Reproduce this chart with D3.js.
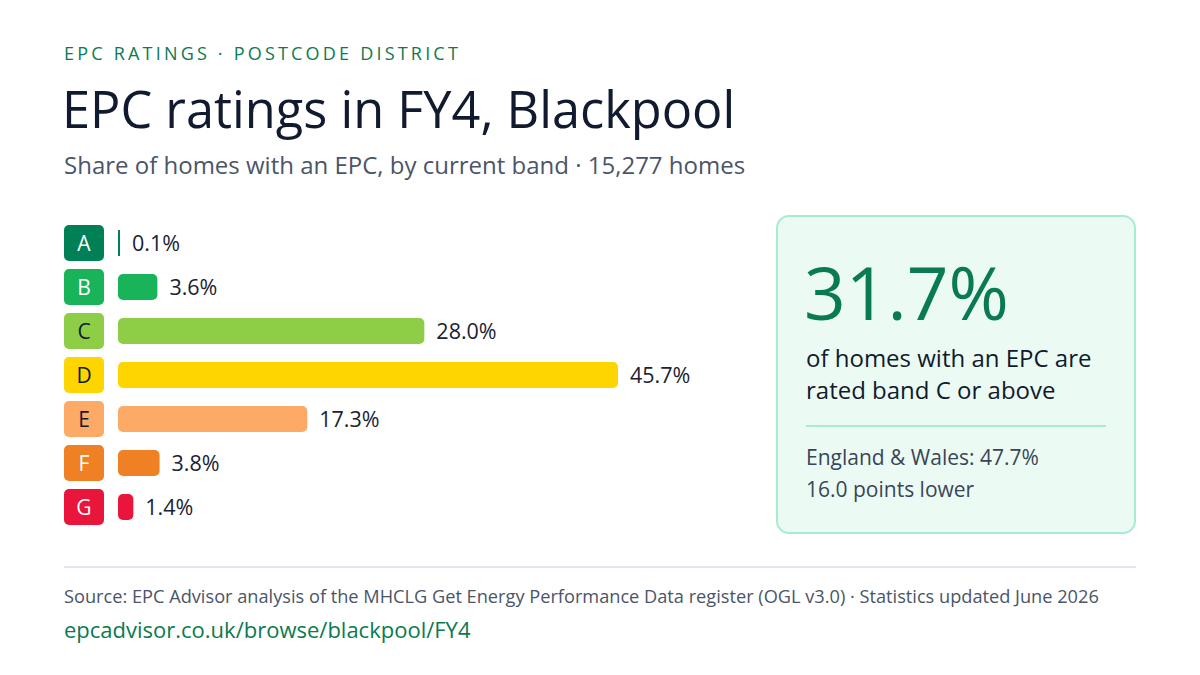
<!DOCTYPE html>
<html>
<head>
<meta charset="utf-8">
<script src="https://cdn.jsdelivr.net/npm/d3@7"></script>
<style>
  body { margin: 0; background: #fff; }
  svg { display: block; font-family: 'Open Sans', 'Noto Sans', sans-serif; }
</style>
</head>
<body>
<svg width="1200" height="675"></svg>
<script>
let bands = ['A', 'B', 'C', 'D', 'E', 'F', 'G'];
let shares = [0.1, 3.6, 28.0, 45.7, 17.3, 3.8, 1.4];
let bandColors = ['#008054', '#19b459', '#8dce46', '#ffd500', '#fcaa65', '#ef8023', '#e9153b'];
let letterColors = ['#fff', '#fff', '#111a2e', '#111a2e', '#111a2e', '#fff', '#fff'];

let headline = '31.7%';
let headlineLines = ['of homes with an EPC are', 'rated band C or above'];
let compareLines = ['England & Wales: 47.7%', '16.0 points lower'];

let data = bands.map((b, i) => ({ band: b, value: shares[i], color: bandColors[i], text: letterColors[i] }));

let svg = d3.select('svg');
let green = '#0a7a50';

// header
svg.append('text').attr('x', 64).attr('y', 60)
  .attr('font-size', 18).attr('letter-spacing', 3.2).attr('fill', green)
  .text('EPC RATINGS · POSTCODE DISTRICT');
svg.append('text').attr('x', 62).attr('y', 128)
  .attr('font-size', 50.5).attr('fill', '#111a2e')
  .text('EPC ratings in FY4, Blackpool');
svg.append('text').attr('x', 64).attr('y', 174)
  .attr('font-size', 24).attr('fill', '#4a5568')
  .text('Share of homes with an EPC, by current band · 15,277 homes');

// bars
let y = d3.scaleBand().domain(bands).range([221, 529]).paddingInner(0.18).paddingOuter(0.09);
let x = d3.scaleLinear().domain([0, d3.max(shares)]).range([118, 618]);

let rows = svg.append('g').selectAll('g')
  .data(data)
  .enter()
  .append('g')
  .attr('transform', (d) => `translate(0,${y(d.band) + y.bandwidth() / 2})`);

rows.append('rect')
  .attr('x', 64).attr('y', -18).attr('width', 40).attr('height', 36)
  .attr('rx', 5).attr('fill', (d) => d.color);
rows.append('text')
  .attr('x', 84).attr('y', 7.5).attr('text-anchor', 'middle')
  .attr('font-size', 21).attr('fill', (d) => d.text)
  .text((d) => d.band);

rows.append('rect')
  .attr('x', x(0)).attr('y', -13)
  .attr('width', (d) => Math.max(2, x(d.value) - x(0)))
  .attr('height', 26)
  .attr('rx', (d) => (x(d.value) - x(0) < 4 ? 0 : 5))
  .attr('fill', (d) => d.color);
rows.append('text')
  .attr('x', (d) => x(0) + Math.max(2, x(d.value) - x(0)) + 12)
  .attr('y', 7.5).attr('font-size', 21.5).attr('fill', '#1a2233')
  .text((d) => d.value.toFixed(1) + '%');

// callout card
let card = svg.append('g');
card.append('rect').attr('x', 777).attr('y', 216).attr('width', 358).attr('height', 317)
  .attr('rx', 12).attr('fill', '#ebfbf3').attr('stroke', '#a7ecd0').attr('stroke-width', 2);
card.append('text').attr('x', 804).attr('y', 320)
  .attr('font-size', 73).attr('fill', green).text(headline);
card.selectAll('text.sub').data(headlineLines).enter().append('text')
  .attr('class', 'sub').attr('x', 806).attr('y', (d, i) => 367 + i * 32)
  .attr('font-size', 24).attr('fill', '#111a2e').text((d) => d);
card.append('line').attr('x1', 806).attr('x2', 1106).attr('y1', 426).attr('y2', 426)
  .attr('stroke', '#a7ecd0').attr('stroke-width', 2);
card.selectAll('text.cmp').data(compareLines).enter().append('text')
  .attr('class', 'cmp').attr('x', 806).attr('y', (d, i) => 465 + i * 32)
  .attr('font-size', 21).attr('fill', '#3a4558').text((d) => d);

// footer
svg.append('line').attr('x1', 64).attr('x2', 1136).attr('y1', 567).attr('y2', 567)
  .attr('stroke', '#e2e6f0').attr('stroke-width', 2);
svg.append('text').attr('x', 64).attr('y', 603)
  .attr('font-size', 18.2).attr('fill', '#4a5568')
  .text('Source: EPC Advisor analysis of the MHCLG Get Energy Performance Data register (OGL v3.0) · Statistics updated June 2026');
svg.append('text').attr('x', 64).attr('y', 638)
  .attr('font-size', 22).attr('fill', green)
  .text('epcadvisor.co.uk/browse/blackpool/FY4');
</script>
</body>
</html>
